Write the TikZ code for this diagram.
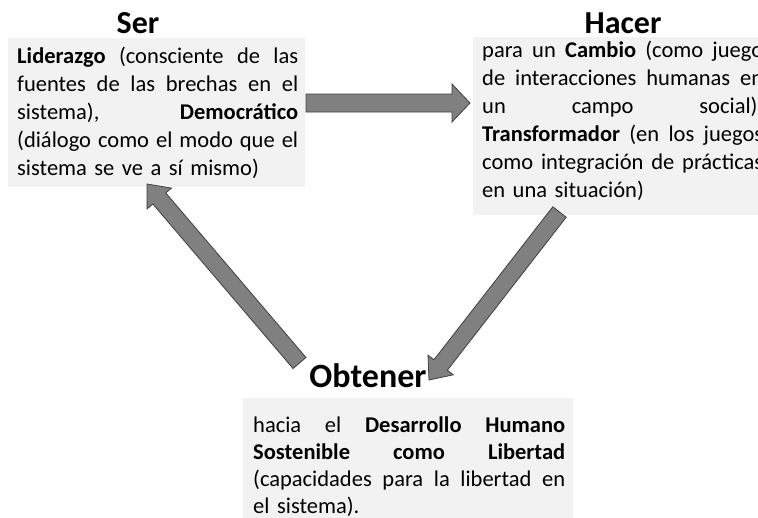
\documentclass[tikz,border=0pt]{standalone}
\usepackage{fontspec}
\setmainfont{Carlito}
\usetikzlibrary{calc}
\definecolor{boxgray}{HTML}{F2F2F2}
\definecolor{arrowgray}{HTML}{808080}
\definecolor{arrowedge}{HTML}{3F3F3F}
\newcommand{\blockarrow}[5]{%
  \coordinate (tmpH) at ($(#2)!#5!(#1)$);
  \draw[blockarrowstyle] ($(#1)!#3!90:(#2)$) -- ($(tmpH)!#3!90:(#2)$) -- ($(tmpH)!#4!90:(#2)$) -- (#2)
    -- ($(tmpH)!#4!-90:(#2)$) -- ($(tmpH)!#3!-90:(#2)$) -- ($(#1)!#3!-90:(#2)$) -- cycle;}
\newcommand{\jline}[2]{\leavevmode\hbox to #1{\frenchspacing\spaceskip=0.226em plus 1fil\relax #2}}
\tikzset{
  boxbg/.style={fill=boxgray, draw=none, inner sep=0pt, anchor=north west},
  bodytext/.style={font=\fontsize{22.5}{28}\selectfont, inner sep=0pt, anchor=base west},
  titletext/.style={font=\fontsize{32}{38}\selectfont\bfseries, inner sep=0pt, anchor=base},
  blockarrowstyle/.style={fill=arrowgray, draw=arrowedge, line width=0.8pt, line join=miter},
}
\begin{document}
\begin{tikzpicture}[x=1pt,y=-1pt]
\useasboundingbox (0,0) rectangle (758,517);
\clip (0,0) rectangle (758,517);
\fill[white] (0,0) rectangle (758,517);
% boxes
\node[boxbg, minimum width=297pt, minimum height=149pt] (serbox) at (8,38) {};
\node[boxbg, minimum width=300pt, minimum height=178pt] (hacerbox) at (473,37) {};
\node[boxbg, minimum width=330pt, minimum height=130pt] (obtbox) at (243,398) {};
% titles
\node[titletext] (sertitle) at (138,33) {Ser};
\node[titletext] (hacertitle) at (623,33) {Hacer};
\node[titletext, font=\fontsize{34}{40}\selectfont\bfseries] (obttitle) at (368,387) {Obtener};
% texts
\node[bodytext, text width=281pt] (sertext) at (17,63) {%
\jline{281pt}{\textbf{Liderazgo} (consciente de las}\\
\jline{281pt}{fuentes de las brechas en el}\\
\jline{281pt}{sistema), \textbf{Democrático}}\\
\jline{281pt}{(diálogo como el modo que el}\\
sistema se ve a sí mismo)};
\node[bodytext, text width=281pt] (hacertext) at (482,57) {%
\jline{281pt}{para un \textbf{Cambio} (como juego}\\
\jline{281pt}{de interacciones humanas en}\\
\jline{281pt}{un campo social),}\\
\jline{281pt}{\textbf{Transformador} (en los juegos}\\
\jline{281pt}{como integración de prácticas}\\
en una situación)};
\node[bodytext, font=\fontsize{22.5}{27}\selectfont, text width=312pt] (obttext) at (253,432) {%
\jline{312pt}{hacia el \textbf{Desarrollo Humano}}\\
\jline{312pt}{\textbf{Sostenible como Libertad}}\\
\jline{312pt}{(capacidades para la libertad en}\\
el sistema).};
% arrow end points
\coordinate (a1s) at (306,103);
\coordinate (a1t) at (470,103);
\coordinate (a2s) at (559.5,212);
\coordinate (a2t) at (429,380);
\coordinate (a3s) at (299.5,363);
\coordinate (a3t) at (147,184);
\blockarrow{a1s}{a1t}{9pt}{19pt}{18pt}
\blockarrow{a2s}{a2t}{8.5pt}{16pt}{19pt}
\blockarrow{a3s}{a3t}{8.5pt}{16pt}{19pt}
\end{tikzpicture}
\end{document}
